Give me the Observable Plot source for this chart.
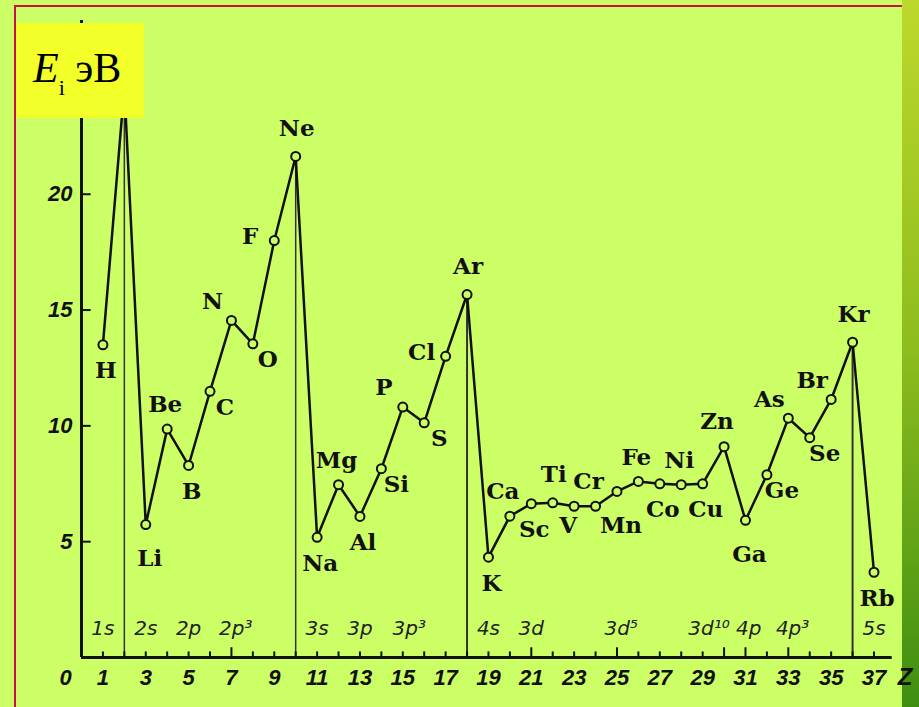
<!DOCTYPE html>
<html><head><meta charset="utf-8">
<script src="https://cdn.jsdelivr.net/npm/d3@7"></script>
<script src="https://cdn.jsdelivr.net/npm/@observablehq/plot@0.6"></script>
<style>
body{margin:0;background:#ccff66;}
#wrap{position:relative;width:919px;height:707px;overflow:hidden;background:#ccff66;}
#chart{position:absolute;left:0;top:0;}
#frameTop{position:absolute;left:14px;top:5px;width:888px;height:2px;background:#c8104a;}
#frameLeft{position:absolute;left:14px;top:5px;width:2px;height:702px;background:#c8104a;}
#strip{position:absolute;left:902px;top:0;width:17px;height:707px;background:linear-gradient(#bdd82c,#8cbc1e 50%,#3f8e12);}
#box{position:absolute;left:16px;top:23px;width:128px;height:95px;background:#f2ff28;}
#box .t{position:absolute;left:17px;top:24px;line-height:42px;white-space:nowrap;font-family:"Liberation Serif",serif;font-size:42px;color:#000;}
#box .sub{font-size:22px;position:relative;top:13px;}
</style>
</head>
<body>
<div id="wrap">
  <div id="strip"></div>
  <div id="chart"></div>
  <div id="frameTop"></div>
  <div id="frameLeft"></div>
  <div id="box"><div class="t"><i>E</i><span class="sub">i</span> эВ</div></div>
</div>
<script>
// Data: first ionization energy (eV) vs atomic number Z
const elements = ["H","He","Li","Be","B","C","N","O","F","Ne",
  "Na","Mg","Al","Si","P","S","Cl","Ar",
  "K","Ca","Sc","Ti","V","Cr","Mn","Fe","Co","Ni","Cu","Zn","Ga","Ge","As","Se","Br","Kr","Rb"];
const energies = [13.5, 24.6, 5.74, 9.86, 8.29, 11.49, 14.55, 13.54, 18.0, 21.63,
  5.19, 7.46, 6.09, 8.15, 10.81, 10.13, 13.0, 15.67,
  4.33, 6.10, 6.64, 6.68, 6.53, 6.53, 7.17, 7.60, 7.50, 7.46, 7.50, 9.10, 5.92, 7.89, 10.33, 9.49, 11.14, 13.61, 3.68];
// label placement code for each element (relative to its point)
const labelSide = ["b","", "B","a","b","r","ul","r","l","A",
  "b","a","b","r","ul","r","l","A",
  "b","al","b","A","bl","al","B","a","b","a","b","al","B","r","ul","r","ul","A","b"];
const nobleGases = ["He","Ne","Ar","Kr"];
const xTickValues = [1,3,5,7,9,11,13,15,17,19,21,23,25,27,29,31,33,35,37];
const longTicks = [7,21,25,30,31,33];
const yTickValues = [5,10,15,20];
const shellLabels = ["1s","2s","2p","2p³","3s","3p","3p³","4s","3d","3d⁵","3d¹⁰","4p","4p³","5s"];
const shellZ = [1,3,5,7.2,11,13,15.3,19,21,25.2,29.3,31.15,33.2,37];

const rows = elements.map((s, i) => ({z: i + 1, e: energies[i], s, side: labelSide[i]}));
const sideOffsets = {
  A: [1, -28], a: [-2, -24], al: [-7, -25],
  b: [3, 26], B: [4, 34], bl: [-6, 19],
  r: [15, 16], ul: [-19, -19], l: [-24, -4]
};
const bg = "#ccff66";
const ink = "#111";
const serif = "'DejaVu Serif', serif";
const sans = "'Liberation Sans', sans-serif";

const labelMarks = Object.entries(sideOffsets).map(([code, [dx, dy]]) =>
  Plot.text(rows.filter(r => r.side === code), {
    x: "z", y: "e", text: "s", dx, dy,
    fontFamily: serif, fontWeight: "bold", fontSize: 23, fill: ink
  })
);

const chart = Plot.plot({
  width: 919, height: 707,
  marginLeft: 81, marginRight: 45.5, marginTop: 20, marginBottom: 50,
  x: {domain: [0, 37], axis: null},
  y: {domain: [0, 27.5], axis: null},
  style: {background: "transparent", overflow: "visible"},
  marks: [
    // vertical separators at noble gases
    Plot.ruleX(rows.filter(r => nobleGases.includes(r.s)), {
      x: "z", y1: 0, y2: "e",
      stroke: "#333", strokeWidth: d => (d.z < 12 ? 1.5 : 2)
    }),
    // axes
    Plot.ruleX([0], {y1: 0, y2: 27.5, stroke: ink, strokeWidth: 3}),
    Plot.ruleY([0], {x1: 0, x2: 37.85, stroke: ink, strokeWidth: 3}),
    Plot.ruleX(d3.range(1, 38), {
      x: d => d, y1: 0, y2: d => (longTicks.includes(d) ? 0.42 : 0.24),
      stroke: ink, strokeWidth: 2
    }),
    Plot.ruleY(yTickValues, {y: d => d, x1: 0, x2: 0.45, stroke: ink, strokeWidth: 2}),
    // tick labels
    Plot.text(xTickValues, {
      x: d => d, y: 0, text: d => String(d), dy: 20,
      fontFamily: sans, fontStyle: "italic", fontWeight: "bold", fontSize: 22, fill: ink
    }),
    Plot.text(["0"], {
      x: 0, y: 0, text: d => d, dx: -16, dy: 20,
      fontFamily: sans, fontStyle: "italic", fontWeight: "bold", fontSize: 22, fill: ink
    }),
    Plot.text(["Z"], {
      x: 37, y: 0, text: d => d, dx: 31, dy: 20,
      fontFamily: sans, fontStyle: "italic", fontWeight: "bold", fontSize: 24, fill: ink
    }),
    Plot.text(yTickValues, {
      x: 0, y: d => d, text: d => String(d), textAnchor: "end", dx: -9,
      fontFamily: sans, fontStyle: "italic", fontWeight: "bold", fontSize: 22, fill: ink
    }),
    // subshell labels
    Plot.text(shellLabels, {
      x: (d, i) => shellZ[i], y: 0, text: d => d, dy: -29,
      fontFamily: "'DejaVu Sans', sans-serif", fontStyle: "italic",
      fontSize: 20, fill: "#222"
    }),
    // data
    Plot.line(rows, {x: "z", y: "e", stroke: ink, strokeWidth: 2.5}),
    Plot.dot(rows, {x: "z", y: "e", r: 4.5, fill: bg, stroke: ink, strokeWidth: 2}),
    ...labelMarks
  ]
});
document.getElementById("chart").appendChild(chart);
</script>
</body></html>
